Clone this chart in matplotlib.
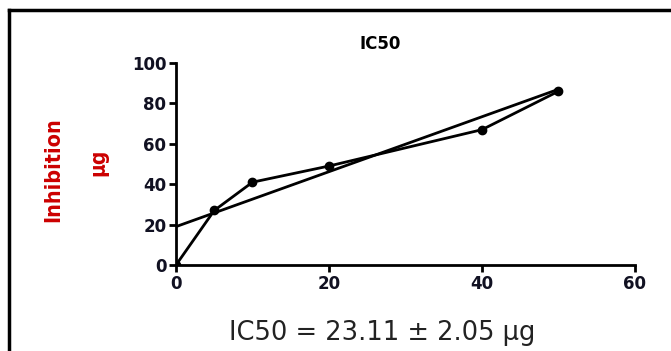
import matplotlib
matplotlib.use("Agg")
import matplotlib.pyplot as plt
import numpy as np
from matplotlib.lines import Line2D

conc = [0, 5, 10, 20, 40, 50]
inhib = [0, 27, 41, 49, 67, 86]
fit_intercept = 19.0
fit_slope = 1.36
xticks = [0, 20, 40, 60]
yticks = [0, 20, 40, 60, 80, 100]
title = "IC50"
ylabel = "Inhibition"
unit = "µg"
result = "IC50 = 23.11 ± 2.05 µg"

fig = plt.figure(figsize=(6.71, 3.51), dpi=100)
ax = fig.add_axes([0.2623, 0.245, 0.684, 0.5755])

ax.plot(conc, inhib, color="black", lw=2, marker="o", ms=6, zorder=3)
xf = np.array([min(conc), max(conc)])
ax.plot(xf, fit_intercept + fit_slope * xf, color="black", lw=2, zorder=2)

ax.set_xlim(0, 60)
ax.set_ylim(0, 100)
ax.set_xticks(xticks)
ax.set_yticks(yticks)
for s in ["top", "right"]:
    ax.spines[s].set_visible(False)
for s in ["left", "bottom"]:
    ax.spines[s].set_linewidth(2)
ax.tick_params(direction="out", length=5, width=2, labelsize=12, pad=2)
for lab in ax.get_xticklabels() + ax.get_yticklabels():
    lab.set_fontweight("bold")
    lab.set_family(["DejaVu Sans"])
    lab.set_color("#111122")

fig.text(380/671, 1 - 44/351, title, fontsize=12, fontweight="bold", family=["DejaVu Sans"],
         ha="center", va="center")

fig.text(53/671, 1 - 170/351, ylabel, rotation=90, color="#cc0000", fontsize=15.5,
         family=["DejaVu Sans"], fontstretch="condensed", fontweight="bold",
         ha="center", va="center")
fig.text(98/671, 1 - 162/351, unit, rotation=90, color="#cc0000", fontsize=15,
         family=["DejaVu Sans"], fontstretch="condensed", fontweight="bold",
         ha="center", va="center")

fig.text(382/671, 1 - 333/351, result, fontsize=18.5, color="#222222",
         family=["DejaVu Sans"], ha="center", va="center")

# frame lines
fig.add_artist(Line2D([9/671, 9/671], [0, 1 - 10/351], transform=fig.transFigure, color="black", lw=2.5))
fig.add_artist(Line2D([9/671, 1], [1 - 10/351, 1 - 10/351], transform=fig.transFigure, color="black", lw=2.5))

fig.savefig("out.png", dpi=100)
